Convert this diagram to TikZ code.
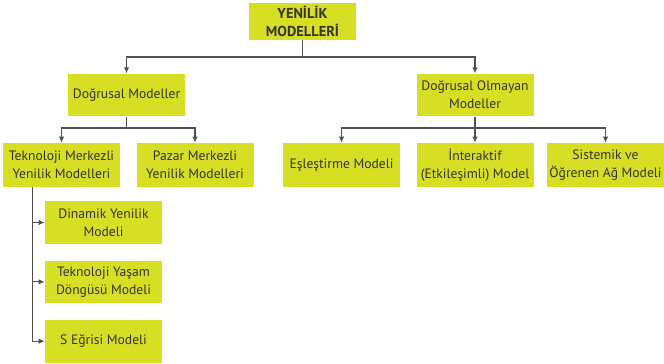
\documentclass[tikz,border=0pt]{standalone}
\usepackage{fontspec}
\setmainfont{PT Sans}
\usetikzlibrary{arrows.meta,positioning}
\definecolor{boxfill}{RGB}{214,223,36}
\definecolor{boxtext}{RGB}{52,52,42}
\definecolor{linegray}{RGB}{80,80,80}

\begin{document}
\begin{tikzpicture}[x=0.75pt,y=-0.75pt,>={Latex[length=4.5pt,width=4pt]},
  node distance=44.5pt,
  model node/.style={rectangle,fill=boxfill,text=boxtext,align=center,
  font=\fontsize{10.2}{13.5}\selectfont,minimum width=87.75pt,
  minimum height=32pt,inner sep=1pt},
  link/.style={draw=linegray,line width=0.8pt}]

  \useasboundingbox (0,0) rectangle (664,364);

  % top
  \node[model node,font=\bfseries\fontsize{10.8}{13.5}\selectfont,
    minimum width=80pt,minimum height=28pt] (root) at (302.5,21.5) {YENİLİK\\MODELLERİ};

  % first level
  \node[model node] (dm) at (126.5,95) {Doğrusal Modeller};
  \node[model node] (dom) at (475,95) {Doğrusal Olmayan\\Modeller};

  % second level
  \node[model node,minimum height=33pt] (tm) at (61.5,165) {Teknoloji Merkezli\\Yenilik Modelleri};
  \node[model node,minimum height=33pt] (pm) at (195,165) {Pazar Merkezli\\Yenilik Modelleri};
  \node[model node,minimum height=33pt] (em) at (341.5,165) {Eşleştirme Modeli};
  \node[model node,minimum height=33pt] (im) at (475,165) {İnteraktif\\(Etkileşimli) Model};
  \node[model node,minimum height=33pt] (sm) at (605.5,165) {Sistemik ve\\Öğrenen Ağ Modeli};

  % technology models
  \node[model node] (dy) at (103.5,222.5) {Dinamik Yenilik\\Modeli};
  \node[model node] (tyd) [below of=dy] {Teknoloji Yaşam\\Döngüsü Modeli};
  \node[model node] (se) [below of=tyd] {S Eğrisi Modeli};

  \coordinate (bus0) at (302.5,57);
  \coordinate (bus1) at (126.5,128);
  \coordinate (bus2) at (475,128);
  \coordinate (trunk) at ([xshift=-22.1pt]tm.south);

  \draw[link,->] (root.south) -- (bus0) -| (dm.north);
  \draw[link,->] (bus0) -| (dom.north);
  \draw[link,->] (dm.south) -- (bus1) -| (tm.north);
  \draw[link,->] (bus1) -| (pm.north);
  \draw[link,->] (dom.south) -- (bus2) -| (em.north);
  \draw[link,->] (bus2) -- (im.north);
  \draw[link,->] (bus2) -| (sm.north);
  \draw[link,->] (trunk) |- (dy.west);
  \draw[link,->] (trunk) |- (tyd.west);
  \draw[link,->] (trunk) |- (se.west);
\end{tikzpicture}
\end{document}
